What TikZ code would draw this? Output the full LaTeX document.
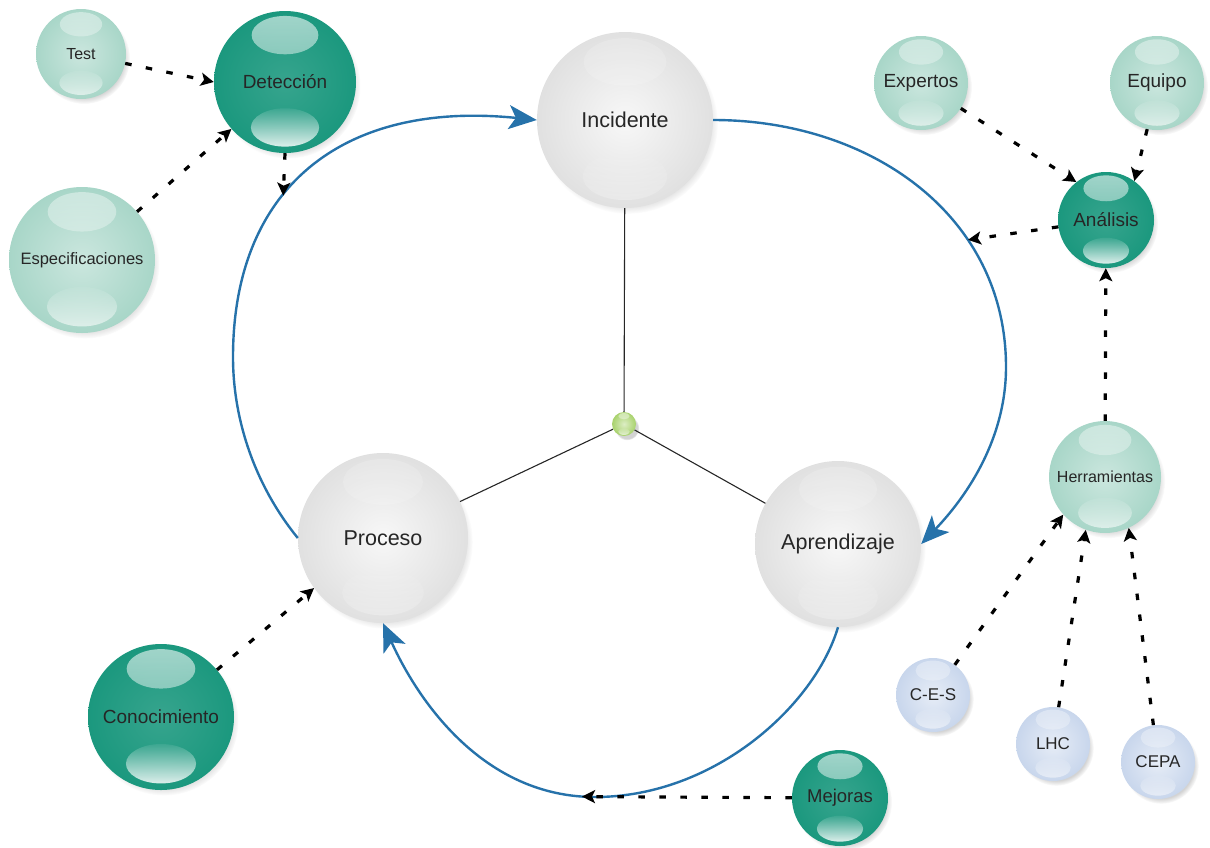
\documentclass[tikz,border=0pt]{standalone}
\usepackage{fontspec}
\setmainfont{Liberation Sans}
\usetikzlibrary{arrows.meta,shadows,fadings}

\definecolor{arcblue}{RGB}{38,114,170}
\definecolor{tealdark}{RGB}{27,152,126}
\definecolor{teallight}{RGB}{168,214,200}
\definecolor{skyball}{RGB}{200,214,236}
\definecolor{limeball}{RGB}{168,210,108}

\newcommand{\ballfont}[1]{\fontsize{#1}{#1}\selectfont}
\newcommand{\glossop}{1}

\tikzfading[name=gloss top, top color=transparent!40, bottom color=transparent!88]
\tikzfading[name=gloss bottom, top color=transparent!92, bottom color=transparent!15]

\tikzset{
  gloss/.store in=\glossop,
  ball/.style={circle, inner sep=0pt, minimum size={2*#1pt}, text=black!85,
    font=\ballfont{19},
    circular drop shadow={shadow scale=1.02, shadow xshift=3pt, shadow yshift=-4pt, opacity=.35},
    path picture={
      \fill[white, path fading=gloss top, fill opacity=\glossop]
        ([yshift={0.66*#1pt}]path picture bounding box.center)
        ellipse [x radius={0.47*#1pt}, y radius={0.27*#1pt}];
      \fill[white, path fading=gloss bottom, fill opacity=\glossop]
        ([yshift={-0.64*#1pt}]path picture bounding box.center)
        ellipse [x radius={0.48*#1pt}, y radius={0.27*#1pt}];
    }},
  pearl ball/.style={ball=#1, gloss=.3, inner color=black!3, outer color=black!12},
  mint ball/.style={ball=#1, gloss=.7, inner color=teallight!60!white, outer color=teallight},
  dark ball/.style={ball=#1, gloss=1, inner color=tealdark!88!white, outer color=tealdark},
  sky ball/.style={ball=#1, gloss=.6, inner color=skyball!45!white, outer color=skyball},
  lime ball/.style={ball=#1, gloss=.8, inner color=limeball!40!white, outer color=limeball},
  loopflow/.style={draw=arcblue, line width=2.4pt,
    -{Stealth[length=28pt, width=24pt, inset=7pt, fill=arcblue]}},
  feed/.style={line width=3.2pt, dash pattern=on 6.5pt off 14.5pt,
    -{Stealth[length=13pt, width=13pt, inset=3pt]}},
  spoke/.style={line width=1.1pt, black!85}
}

\begin{document}
\begin{tikzpicture}[x=1pt, y=-1pt]
\useasboundingbox (0,0) rectangle (1210,847);

% the three stages and the hub
\node[pearl ball=88, font=\ballfont{21.5}] (incidente) at (625,120) {Incidente};
\node[pearl ball=85, font=\ballfont{21.5}] (proceso) at (383,538) {Proceso};
\node[pearl ball=83, font=\ballfont{21.5}] (aprendizaje) at (838,544) {Aprendizaje};
\node[lime ball=12] (hub) at (624,424) {};

% inputs around the ring
\node[mint ball=45, font=\ballfont{16}] (test) at (81,54) {Test};
\node[dark ball=71] (deteccion) at (285,82) {Detección};
\node[mint ball=73, font=\ballfont{16.5}] (espec) at (82,260) {Especificaciones};
\node[mint ball=47] (expertos) at (921,83) {Expertos};
\node[mint ball=47] (equipo) at (1157,83) {Equipo};
\node[dark ball=48] (analisis) at (1106,220) {Análisis};
\node[mint ball=56, font=\ballfont{16}] (herramientas) at (1105,477) {Herramientas};
\node[sky ball=37, font=\ballfont{17}] (ces) at (933,695) {C-E-S};
\node[sky ball=37, font=\ballfont{17}] (lhc) at (1053,744) {LHC};
\node[sky ball=37, font=\ballfont{17}] (cepa) at (1158,762) {CEPA};
\node[dark ball=73] (conocimiento) at (161,717) {Conocimiento};
\node[dark ball=48, font=\ballfont{18.5}] (mejoras) at (840,798) {Mejoras};

% spokes
\draw[spoke] (hub) -- (incidente);
\draw[spoke] (hub) -- (proceso);
\draw[spoke] (hub) -- (aprendizaje);

% the cycle
\draw[loopflow] (proceso.west) .. controls (257,488) and (233,423) .. (233,357)
  .. controls (233,190) and (340,100) .. (incidente.west) coordinate[pos=.4] (detin);
\draw[loopflow] (incidente.east) .. controls (870,120) and (1006,215) .. (1006,367)
  coordinate[pos=.68] (anin)
  .. controls (1006,437) and (969,494) .. (aprendizaje.east);
\draw[loopflow] (aprendizaje.south) .. controls (815,705) and (715,797) .. (595,797)
  .. controls (485,797) and (419,703) .. (proceso.south) coordinate[pos=.04] (mejin);

% dotted feeds
\draw[feed] (test.-12) -- (deteccion.west);
\draw[feed] (espec) -- (deteccion);
\draw[feed] (deteccion.south) -- (detin);
\draw[feed] (expertos) -- (analisis.128);
\draw[feed] (equipo.258) -- (analisis.54);
\draw[feed] (analisis) -- (anin);
\draw[feed] (herramientas) -- (analisis);
\draw[feed] (ces) -- (herramientas.222);
\draw[feed] (lhc) -- (herramientas.250);
\draw[feed] (cepa) -- (herramientas.295);
\draw[feed] (conocimiento) -- (proceso.216);
\draw[feed] (mejoras) -- (mejin);
\end{tikzpicture}
\end{document}
